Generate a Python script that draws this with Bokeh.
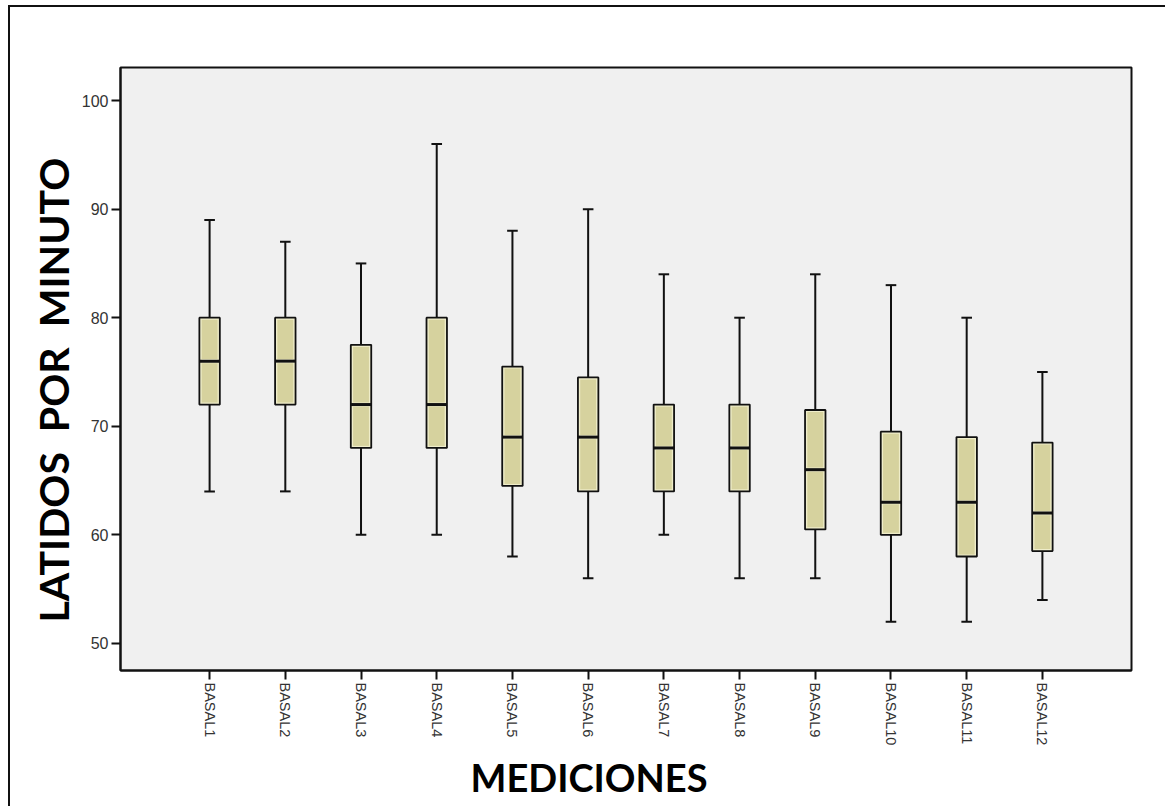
import math
from bokeh.plotting import figure
from bokeh.models import Range1d, FixedTicker, Title
from bokeh.embed import file_html
from bokeh.resources import INLINE

categories = ["BASAL1", "BASAL2", "BASAL3", "BASAL4", "BASAL5", "BASAL6",
              "BASAL7", "BASAL8", "BASAL9", "BASAL10", "BASAL11", "BASAL12"]
whisker_low = [64, 64, 60, 60, 58, 56, 60, 56, 56, 52, 52, 54]
q1 = [72, 72, 68, 68, 64.5, 64, 64, 64, 60.5, 60, 58, 58.5]
median = [76, 76, 72, 72, 69, 69, 68, 68, 66, 63, 63, 62]
q3 = [80, 80, 77.5, 80, 75.5, 74.5, 72, 72, 71.5, 69.5, 69, 68.5]
whisker_high = [89, 87, 85, 96, 88, 90, 84, 80, 84, 83, 80, 75]
y_ticks = [50, 60, 70, 80, 90, 100]

xs = list(range(1, len(categories) + 1))
box_w = 0.27
cap_w = 0.14
inset = 0.19

p = figure(width=1165, height=806, output_backend="svg", toolbar_location=None,
           x_range=Range1d(-0.177, 13.177), y_range=Range1d(47.5, 103.05),
           min_border_left=120, min_border_top=67, min_border_right=34,
           min_border_bottom=136)
p.border_fill_color = None
p.styles = {"box-shadow": "inset 8px 5px 0 0 #ffffff, inset 10px 7px 0 0 #111111"}
p.background_fill_color = "#f0f0f0"
p.outline_line_color = "#111111"
p.outline_line_width = 2
p.xgrid.visible = False
p.ygrid.visible = False

# whiskers
p.segment(x0=xs, y0=whisker_low, x1=xs, y1=q1, line_color="#111111", line_width=2)
p.segment(x0=xs, y0=q3, x1=xs, y1=whisker_high, line_color="#111111", line_width=2)
p.segment(x0=[x - cap_w / 2 for x in xs], y0=whisker_low,
          x1=[x + cap_w / 2 for x in xs], y1=whisker_low, line_color="#111111", line_width=2)
p.segment(x0=[x - cap_w / 2 for x in xs], y0=whisker_high,
          x1=[x + cap_w / 2 for x in xs], y1=whisker_high, line_color="#111111", line_width=2)

# boxes
p.vbar(x=xs, width=box_w, bottom=q1, top=q3, fill_color="#efedca",
       line_color="#111111", line_width=1.8)
p.vbar(x=xs, width=box_w - 0.06, bottom=[a + inset for a in q1],
       top=[m - inset for m in median], fill_color="#d6d29e", line_color=None)
p.vbar(x=xs, width=box_w - 0.06, bottom=[m + inset for m in median],
       top=[b - inset for b in q3], fill_color="#d6d29e", line_color=None)
p.segment(x0=[x - box_w / 2 for x in xs], y0=median,
          x1=[x + box_w / 2 for x in xs], y1=median, line_color="#111111", line_width=3)

# axes
p.xaxis.ticker = FixedTicker(ticks=xs)
p.xaxis.major_label_overrides = {x: c for x, c in zip(xs, categories)}
p.xaxis.major_label_orientation = -math.pi / 2
p.yaxis.ticker = FixedTicker(ticks=y_ticks)
for ax in (p.xaxis, p.yaxis):
    ax.axis_line_color = "#111111"
    ax.axis_line_width = 2
    ax.major_tick_line_color = "#111111"
    ax.major_tick_line_width = 2
    ax.major_tick_in = 0
    ax.major_tick_out = 9
    ax.minor_tick_line_color = None
    ax.major_label_text_font = "Liberation Sans"
    ax.major_label_text_color = "#333333"
    ax.major_label_standoff = 3
p.xaxis.major_label_text_font_size = "14.5px"
p.yaxis.major_label_text_font_size = "16px"

p.add_layout(Title(text="MEDICIONES", align="left", offset=350,
                   text_font="Lato", text_font_style="bold", text_font_size="38px",
                   text_color="#000000", standoff=6), "below")
p.add_layout(Title(text="LATIDOS\u00a0\u00a0POR\u00a0\u00a0MINUTO", align="left", offset=48,
                   text_font="Lato", text_font_style="bold", text_font_size="41px",
                   text_color="#000000", standoff=2), "left")

open("out.html", "w").write(file_html(p, INLINE))
